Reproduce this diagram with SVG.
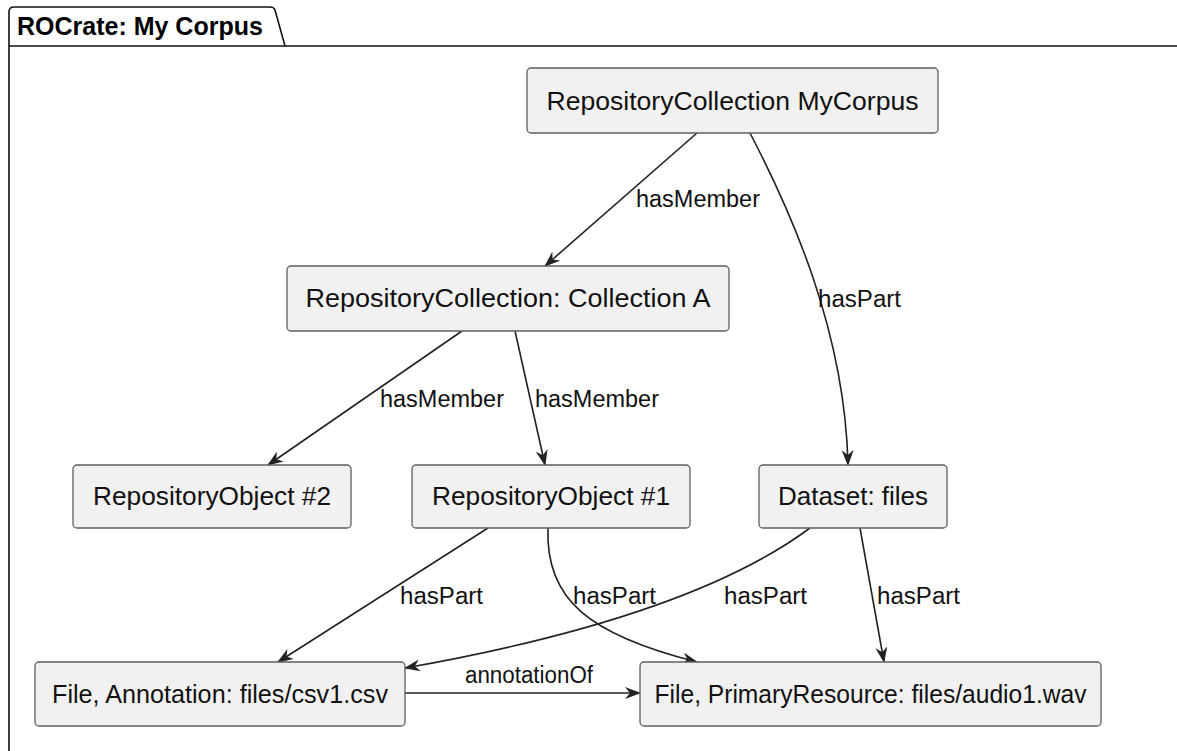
<svg xmlns="http://www.w3.org/2000/svg" width="1177" height="751" viewBox="0 0 1177 751">
<style>
.node rect{fill:#F1F1F1;stroke:#5f5f5f;stroke-width:1.3}
.node text{font-family:"Liberation Sans",Arial,sans-serif;font-size:25px;fill:#111;text-anchor:middle}
.edge{fill:none;stroke:#222;stroke-width:1.6}
.lbl{font-family:"Liberation Sans",Arial,sans-serif;font-size:23.5px;fill:#111}
.frame{fill:none;stroke:#111;stroke-width:1.6}
.title{font-family:"Liberation Sans",Arial,sans-serif;font-size:25px;font-weight:bold;fill:#000}
</style>
<defs>
<marker id="arr" viewBox="0 0 16 12" refX="15" refY="6" markerWidth="16" markerHeight="12" markerUnits="userSpaceOnUse" orient="auto">
<path d="M0,0 L16,6 L0,12 L5,6 Z" fill="#222"/>
</marker>
</defs>
<rect width="1177" height="751" fill="#fff"/>
<g id="frame">
<path class="frame" d="M9,751 L9,12 Q9,7 14,7 L270,7 Q274,7 275,10 L285,46 L1177,46"/>
<path class="frame" d="M9,46 L285,46"/>
<text class="title" x="17" y="35">ROCrate: My Corpus</text>
</g>
<g id="connectors">
<path class="edge" d="M697,133 L545,266" marker-end="url(#arr)"/>
<text class="lbl" x="636" y="207" textLength="124" lengthAdjust="spacingAndGlyphs">hasMember</text>
<path class="edge" d="M750,133 C790,210 845,330 848,465" marker-end="url(#arr)"/>
<text class="lbl" x="818" y="307" textLength="83" lengthAdjust="spacingAndGlyphs">hasPart</text>
<path class="edge" d="M462,331 L268,465" marker-end="url(#arr)"/>
<text class="lbl" x="380" y="407" textLength="124" lengthAdjust="spacingAndGlyphs">hasMember</text>
<path class="edge" d="M515,331 L545,465" marker-end="url(#arr)"/>
<text class="lbl" x="535" y="407" textLength="124" lengthAdjust="spacingAndGlyphs">hasMember</text>
<path class="edge" d="M488,528 L278,662" marker-end="url(#arr)"/>
<text class="lbl" x="400" y="604" textLength="83" lengthAdjust="spacingAndGlyphs">hasPart</text>
<path class="edge" d="M548,528 C545,600 590,635 697,662" marker-end="url(#arr)"/>
<text class="lbl" x="573" y="604" textLength="83" lengthAdjust="spacingAndGlyphs">hasPart</text>
<path class="edge" d="M810,528 C740,580 620,630 405,668" marker-end="url(#arr)"/>
<text class="lbl" x="724" y="604" textLength="83" lengthAdjust="spacingAndGlyphs">hasPart</text>
<path class="edge" d="M860,528 L884,662" marker-end="url(#arr)"/>
<text class="lbl" x="877" y="604" textLength="83" lengthAdjust="spacingAndGlyphs">hasPart</text>
<path class="edge" d="M405,693 L640,693" marker-end="url(#arr)"/>
<text class="lbl" x="465" y="683" textLength="128" lengthAdjust="spacingAndGlyphs">annotationOf</text>
</g>
<g id="mycorpus" class="node">
<rect x="527" y="68" width="411" height="65" rx="4"/>
<text x="732.5" y="109.5" textLength="372" lengthAdjust="spacingAndGlyphs">RepositoryCollection MyCorpus</text>
</g>
<g id="collectionA" class="node">
<rect x="287" y="266" width="442" height="65" rx="4"/>
<text x="508" y="307" textLength="405" lengthAdjust="spacingAndGlyphs">RepositoryCollection: Collection A</text>
</g>
<g id="object2" class="node">
<rect x="73" y="465" width="278" height="63" rx="4"/>
<text x="212" y="505" textLength="238" lengthAdjust="spacingAndGlyphs">RepositoryObject #2</text>
</g>
<g id="object1" class="node">
<rect x="412" y="465" width="278" height="63" rx="4"/>
<text x="551" y="505" textLength="238" lengthAdjust="spacingAndGlyphs">RepositoryObject #1</text>
</g>
<g id="datasetFiles" class="node">
<rect x="759" y="465" width="188" height="63" rx="4"/>
<text x="853" y="505" textLength="150" lengthAdjust="spacingAndGlyphs">Dataset: files</text>
</g>
<g id="csv1" class="node">
<rect x="35" y="662" width="370" height="64" rx="4"/>
<text x="220" y="703" textLength="336" lengthAdjust="spacingAndGlyphs">File, Annotation: files/csv1.csv</text>
</g>
<g id="audio1" class="node">
<rect x="640" y="662" width="461" height="64" rx="4"/>
<text x="870.5" y="703" textLength="432" lengthAdjust="spacingAndGlyphs">File, PrimaryResource: files/audio1.wav</text>
</g>
</svg>
